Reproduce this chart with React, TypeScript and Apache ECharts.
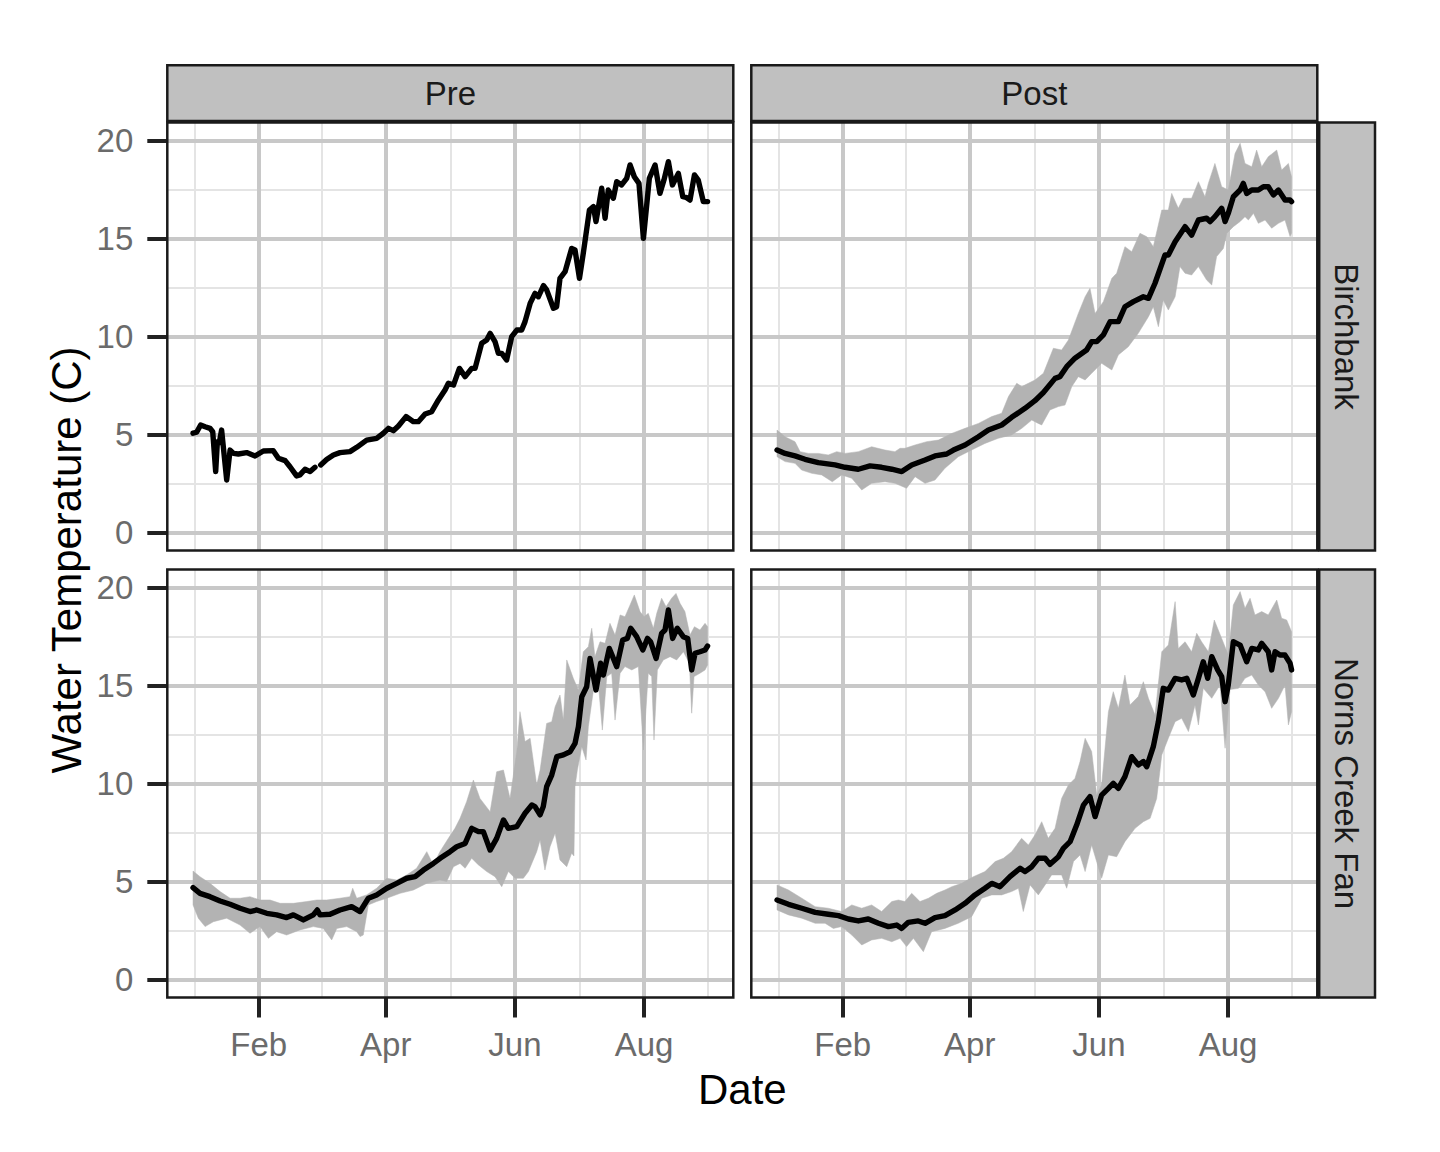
import React, { useEffect, useRef } from 'react';
import * as echarts from 'echarts';

// ---- axis ticks / labels ----
const xTickDays = [31, 91, 152, 213];
const xTickLabels = ['Feb', 'Apr', 'Jun', 'Aug'];
const xMinorDays = [1, 61, 121.5, 182.5, 243];
const yTicks = [0, 5, 10, 15, 20];
const yMinor = [2.5, 7.5, 12.5, 17.5];
const colLabels = ['Pre', 'Post'];
const rowLabels = ['Birchbank', 'Norns Creek Fan'];

// ---- Pre / Birchbank (day of year, Jan 1 = 0) ----
const preBirchDays = [0,1.7,3.6,5.7,8,9.3,10.7,11.5,12.4,13.5,15.9,17.5,19.1,21.4,25.3,29.3,33.2,37.9,40.3,43.5,45.8,48.9,50.5,52.9,55.3,57.6,58.9,60.3,63.1,66.3,69.4,74.1,77.3,82,86.7,89.9,92.3,94.6,97,100.6,104.1,106.4,109.6,112.7,115.9,119,120.6,123,125.8,128.5,131.6,133.2,136.3,138.7,140.3,142.6,144.2,145.8,148.1,150.5,152.9,155.2,156.8,159.2,161.5,163.1,165.5,167,170.2,171.7,173.3,175.7,178.8,180.4,182.5,184.3,187.2,189.1,190.3,193,194.6,196.1,198.5,200.1,202.4,204.8,206.4,208.4,210.6,212.7,215.5,218.2,220.5,222.4,224.5,226.4,229.2,231.3,232.8,234.7,236.8,238.6,241,243];
const preBirchMean = [5.06,5.11,5.48,5.39,5.31,5.14,3.10,4.63,4.58,5.22,2.67,4.20,4.03,4.00,4.07,3.90,4.15,4.17,3.78,3.66,3.35,2.88,2.93,3.22,3.10,3.32,null,3.44,3.72,3.95,4.07,4.12,4.34,4.71,4.80,5.06,5.31,5.19,5.43,5.91,5.65,5.65,6.04,6.16,6.76,7.27,7.61,7.52,8.37,7.95,8.37,8.37,9.65,9.82,10.16,9.74,9.14,9.14,8.80,9.99,10.33,10.33,10.76,11.69,12.20,12.03,12.60,12.38,11.44,11.52,12.97,13.31,14.50,14.42,12.97,14.25,16.46,16.63,15.87,17.57,16.04,17.48,17.06,17.91,17.74,18.08,18.76,18.16,17.82,15.01,18.08,18.76,17.31,17.99,18.93,17.74,18.33,17.14,17.11,16.97,18.25,17.99,16.89,16.89];

// ---- Post / Birchbank ----
const postBirchDays = [0,3.8,8.5,13.2,19.5,27.4,32.1,38.4,43.9,49.4,54.2,58.9,63.6,69.9,74.6,80.1,83.3,88.8,95.1,99.8,106.1,110.8,117.1,121.8,125.8,131.3,133.6,136.8,140.7,146.2,148.6,151,154.1,157.3,161.2,164.3,168.3,173,175.4,178.5,183.2,184.8,188,192.7,195.8,199,202.9,204.5,206.8,210,211.6,213.1,215.5,218.7,220.2,221.8,224.2,227.3,229.7,232,234.4,236.8,239.9,242.3,243];
const postBirchMean = [4.20,4.03,3.90,3.73,3.56,3.44,3.32,3.22,3.39,3.32,3.22,3.10,3.44,3.69,3.90,4.00,4.20,4.46,4.88,5.22,5.48,5.87,6.33,6.72,7.14,7.86,7.95,8.46,8.89,9.31,9.74,9.74,10.08,10.76,10.76,11.52,11.78,12.03,11.95,12.72,14.16,14.16,14.84,15.61,15.18,15.95,16.04,15.87,16.12,16.55,15.87,16.29,17.14,17.48,17.82,17.31,17.48,17.48,17.65,17.65,17.23,17.48,16.97,16.97,16.89];
const postBirchUpDays = [0,3.8,8.5,10.9,14.8,19.5,24.2,28.2,32.1,38.4,44.7,51,55.7,58.1,60.4,65.2,70.7,76.2,82.5,88.8,95.1,101.4,106.1,109.3,113.2,115.6,118.7,121.8,125.8,130.5,134.4,137.6,142.3,145.5,147.8,150.2,154.1,158.1,160.4,164.3,167.5,171.4,174.6,177.7,181.7,184.8,186.4,189.5,191.9,195.8,199,202.1,203.7,206.8,210,213.1,216.3,218.7,221,224.2,226.5,228.9,232,236,238.3,241.5,243];
const postBirchUp = [5.22,4.88,4.63,4.12,4.03,4.03,3.95,4.12,4.03,4.12,4.37,4.20,4.12,4.29,4.29,4.46,4.63,4.71,5.05,5.31,5.56,5.91,6.08,6.93,7.61,7.44,7.61,7.78,8.12,9.40,9.31,9.82,11.18,12.03,12.46,11.18,11.78,12.97,13.23,14.59,14.33,15.27,15.10,14.59,16.46,16.46,17.31,16.55,17.06,17.06,17.91,17.14,17.82,18.84,17.65,17.48,19.35,19.87,18.84,18.67,19.52,18.67,19.18,19.52,18.50,18.84,18.16];
const postBirchLoDays = [0,3.8,8.5,11.6,16.4,21.1,26.1,30.5,35.3,40,44.7,51,55.7,61.2,65.2,69.9,74.6,79.3,85.6,91.9,98.2,104.5,110.8,115.6,120.3,123.4,125,128.9,132.9,136,139.2,142.3,145.5,148.6,153.3,158.1,161.2,165.9,170.6,175.4,177.7,180.1,182.4,184.8,188,190.3,192.7,195.8,199,202.9,205.3,207.6,210.8,212.4,215.5,218.7,221,222.6,225,227.3,230.5,233.6,236.8,239.9,242.3,243];
const postBirchLo = [3.86,3.61,3.52,3.18,3.01,2.93,2.58,2.93,2.76,2.16,2.50,2.58,2.50,2.25,2.84,2.50,2.67,3.27,3.86,4.20,4.54,4.80,4.97,5.31,5.73,5.56,5.48,6.25,6.42,6.50,7.44,7.95,7.78,8.12,8.63,8.29,9.06,9.48,10.16,11.01,11.52,10.50,11.86,11.35,12.03,13.57,13.23,13.14,13.57,12.88,12.63,14.08,14.50,15.27,15.61,15.87,16.12,15.95,16.29,15.78,15.95,15.53,15.78,15.95,15.10,15.27];

// ---- Pre / Norns Creek Fan ----
const preNornsDays = [0,3.3,8,12.8,17.5,22.2,26.9,30.1,34.8,39.5,44.2,47.4,52.1,56.8,58.7,60,64.7,69.4,74.9,78.9,82.8,86.7,91.5,96.2,100.9,104.9,108.8,113.5,116.7,121.4,124.5,128.5,131.6,134.8,137.1,140.3,143.4,146.6,148.9,152.9,156.8,160,161.5,163.9,165.4,167,169.4,171.8,174.9,178,180.4,182,183.6,185.9,187.5,190.3,192.5,193.8,196.6,200.1,202.9,205.1,206.7,209.5,212.4,214.6,216.1,218.7,221.3,222.9,224.5,226.5,228.7,231.5,233.6,235.5,237.1,239.4,241.8,243];
const preNornsMean = [4.68,4.39,4.22,4.00,3.83,3.63,3.46,3.54,3.37,3.29,3.15,3.29,3.03,3.29,3.54,3.29,3.32,3.54,3.71,3.46,4.14,4.31,4.65,4.90,5.16,5.24,5.58,5.92,6.18,6.52,6.77,6.94,7.71,7.54,7.54,6.60,7.20,8.14,7.71,7.80,8.48,8.90,8.82,8.40,8.82,9.84,10.43,11.37,11.46,11.62,12.05,12.90,14.43,14.94,16.39,14.78,16.14,15.54,16.90,15.97,17.33,17.41,17.93,17.50,16.82,17.41,17.24,16.39,17.67,17.84,18.86,17.41,17.93,17.50,17.41,15.80,16.65,16.73,16.82,17.02];
const preNornsUpDays = [0,3.3,8,12.8,17.5,22.2,26.9,31.6,36.4,41.1,47.4,53.7,58.4,63.1,69.4,74.1,75.4,77.3,82,86.7,91.5,96.2,100.9,105.6,110.4,113.5,116.6,120.6,123.7,126.1,129.2,132.4,135.5,140.3,143.4,146.6,149.7,152.9,154.4,156.8,159.2,162.3,163.9,167,169.4,171,173.3,174.9,176.5,179.6,182,184.3,186.7,188.3,189.8,192.2,194.6,196.9,199.3,201.7,204,206.4,208.4,211.1,213,215,217.4,219,221.3,223.4,226,228.1,230,232.3,234.7,236.8,239.4,241.8,243];
const preNornsUp = [5.53,5.24,4.90,4.48,4.14,4.14,4.22,4.05,4.05,3.88,3.88,3.97,4.05,4.05,4.14,4.22,4.65,4.14,4.31,4.65,5.16,5.07,5.33,5.67,6.52,5.84,6.52,7.20,7.71,8.22,9.07,10.18,9.24,8.56,10.60,10.69,9.24,11.63,13.67,12.14,12.31,9.92,10.69,13.07,13.16,13.92,14.52,13.24,16.31,15.37,14.78,16.73,16.99,17.93,16.48,17.24,17.16,18.18,17.58,18.61,18.52,19.12,19.63,18.78,18.52,18.69,17.93,18.69,19.46,19.03,19.46,19.71,19.20,18.78,17.58,18.01,17.84,18.18,18.01];
const preNornsLoDays = [0,2.5,5.7,9.6,15.9,22.2,26.9,31.6,35.6,39.5,44.2,50.5,56.8,61.5,65.5,67.9,72.6,77.3,78.9,80.4,82.8,86.7,91.5,97.8,104.1,110.4,116.6,119.8,123,126.1,128.5,131.6,134.8,138.7,142.6,145.8,148.9,152.1,156,158.4,162.3,163.9,166.2,168.6,171,173.3,176.5,178.8,179.9,180.4,181.5,183.6,185.6,186.7,189.1,191.4,193.3,195.4,197.7,199.3,201.7,204,207.2,210.3,212.7,215,216.6,217.7,219.3,222.1,225.3,228.4,231.6,234.4,235.5,236.6,239.4,241.8,243];
const preNornsLo = [3.80,3.12,2.69,2.94,3.12,2.77,2.35,2.69,2.09,2.43,2.26,2.52,2.69,2.60,2.01,2.60,2.69,2.43,2.18,2.26,3.80,3.97,4.14,4.39,4.56,4.90,5.07,4.99,5.75,5.92,5.67,6.18,5.84,5.50,5.24,4.73,5.50,5.16,5.16,5.50,6.52,7.11,5.58,6.77,7.46,6.09,5.75,6.44,6.30,9.84,10.69,11.88,11.20,12.90,14.78,15.12,12.73,15.46,15.63,13.24,15.63,15.97,15.80,15.97,11.71,15.63,15.46,12.22,15.80,16.31,16.48,16.31,16.73,16.14,13.59,15.46,15.63,15.80,16.05];

// ---- Post / Norns Creek Fan ----
const postNornsDays = [0,5.4,11.7,18,24.2,29,33.7,38.4,43.1,47.9,52.6,56.5,58.9,62,66.7,69.9,74.6,79.3,84.1,88.8,93.5,98.2,101.4,105.3,110,114.8,117.1,120.3,123.4,126.6,128.9,132.9,135.2,138.4,141.5,144.7,147.8,150.2,153.3,156.5,158.8,161.2,164.3,167.5,170.6,173,174.6,177.7,180.1,182.4,184.8,188,191.1,193.5,196.6,199,201.3,203.4,205.3,208.1,210,211.6,213.1,215.5,218.7,221.8,224.2,227.3,228.9,232,233.6,235.2,237.5,239.9,242.3,243];
const postNornsMean = [4.05,3.83,3.63,3.42,3.32,3.25,3.08,2.98,3.08,2.86,2.69,2.77,2.60,2.91,2.98,2.86,3.15,3.25,3.54,3.88,4.31,4.65,4.90,4.73,5.24,5.67,5.50,5.75,6.18,6.18,5.87,6.26,6.69,7.03,7.88,8.90,9.33,8.31,9.41,9.75,10.01,9.75,10.35,11.37,10.95,11.12,10.86,11.88,13.16,14.86,14.77,15.37,15.29,15.37,14.52,15.37,16.22,15.37,16.48,15.80,15.46,14.18,15.03,17.24,17.07,16.22,16.90,16.82,17.16,16.73,15.80,16.73,16.56,16.56,16.14,15.80];
const postNornsUpDays = [0,5.4,11.7,18,24.2,30.5,35.3,40,44.7,49.4,54.2,57.3,60.4,63.6,67.5,71.5,75.4,79.3,82.5,87.2,92.7,98.2,103,106.9,110.8,115.5,118.7,121.8,125,128.1,131.3,134.4,137.6,140.7,143.1,145.5,148.6,151,153.3,156.5,158.8,161.2,164.3,166.7,170.6,173,175.4,178.5,181.7,184.8,188,189.5,192.7,195.8,198.2,200.5,203.7,206.5,210,213.1,215.5,218.7,221,223.4,225.7,228.9,232,236,238.3,240.7,243];
const postNornsUp = [4.82,4.56,4.14,3.71,3.63,3.46,3.80,3.63,3.80,3.46,3.97,4.05,3.97,4.39,3.97,4.14,4.39,4.56,4.73,4.90,5.24,5.50,6.01,6.18,6.52,7.20,6.86,7.37,8.05,7.20,7.71,9.24,9.92,10.26,11.12,12.31,11.63,9.41,9.92,13.67,14.69,13.84,15.54,14.01,14.44,15.20,14.35,13.50,16.73,17.07,19.29,16.90,17.24,16.73,17.67,17.24,16.73,18.35,17.41,16.56,19.12,19.80,18.95,19.46,18.61,18.78,18.61,19.37,18.44,18.35,17.75];
const postNornsLoDays = [0,5.4,11.7,18,22.7,26.6,30.5,35.3,40,44.7,49.4,54.2,58.1,61.2,64.4,69.1,73,79.3,85.6,91.9,96.7,101.4,106.1,110.8,114,116.3,119.5,123.4,126.6,129.7,134.4,136.8,140,143.1,145.5,148.6,153.3,156.5,160.4,164.3,169.1,173,176.2,179.3,181.7,184.8,188,191.1,194.3,197.4,199,201.3,205.3,209.2,211.6,213.9,217.9,221,224.2,227.3,230.5,233.6,236.8,239.9,241.5,243];
const postNornsLo = [3.54,3.29,3.12,2.86,2.86,2.60,2.69,2.26,1.75,2.01,2.09,1.92,2.09,1.67,2.09,1.41,2.43,2.60,2.86,3.20,4.14,4.31,4.31,4.48,4.65,3.46,4.82,4.31,4.82,5.33,5.33,4.65,6.01,6.35,5.50,6.86,5.16,6.35,6.26,7.03,7.71,8.05,8.22,9.24,11.46,12.31,13.16,13.33,12.65,14.01,12.99,14.86,14.35,15.03,11.80,14.80,14.86,15.37,15.54,15.03,14.69,13.84,14.35,15.03,12.99,13.67];

// ---- layout / style ----
const FONT = "'Liberation Sans', Arial, Helvetica, sans-serif";
const X_MIN = -12.15, X_MAX = 255.15, Y_MIN = -0.93, Y_MAX = 20.93;
const PANEL_LEFT = [167.3, 751.3];
const PANEL_TOP = [122.5, 569.5];
const PANEL_W = 566, PANEL_H = 428;
const STRIP_TOP = 65.2, STRIP_H = 55.8;
const RSTRIP_LEFT = 1319.2, RSTRIP_W = 55.8;

type Ribbon = { upDays: number[]; up: number[]; loDays: number[]; lo: number[] } | null;
const panels: { row: number; col: number; days: number[]; mean: (number | null)[]; ribbon: Ribbon }[] = [
  { row: 0, col: 0, days: preBirchDays, mean: preBirchMean, ribbon: null },
  { row: 0, col: 1, days: postBirchDays, mean: postBirchMean, ribbon: { upDays: postBirchUpDays, up: postBirchUp, loDays: postBirchLoDays, lo: postBirchLo } },
  { row: 1, col: 0, days: preNornsDays, mean: preNornsMean, ribbon: { upDays: preNornsUpDays, up: preNornsUp, loDays: preNornsLoDays, lo: preNornsLo } },
  { row: 1, col: 1, days: postNornsDays, mean: postNornsMean, ribbon: { upDays: postNornsUpDays, up: postNornsUp, loDays: postNornsLoDays, lo: postNornsLo } },
];

function gridLines(i: number, xs: number[], ys: number[], color: string, width: number, z: number) {
  return {
    type: 'line',
    xAxisIndex: i,
    yAxisIndex: i,
    data: [],
    z,
    silent: true,
    markLine: {
      silent: true,
      z,
      animation: false,
      symbol: ['none', 'none'],
      label: { show: false },
      emphasis: { disabled: true },
      lineStyle: { color, width, type: 'solid', opacity: 1 },
      data: [...xs.map((v) => ({ xAxis: v })), ...ys.map((v) => ({ yAxis: v }))],
    },
  };
}

function buildOption() {
  const grid: any[] = [];
  const xAxis: any[] = [];
  const yAxis: any[] = [];
  const series: any[] = [];
  const graphic: any[] = [];

  panels.forEach((p, i) => {
    grid.push({ left: PANEL_LEFT[p.col], top: PANEL_TOP[p.row], width: PANEL_W, height: PANEL_H, show: false, containLabel: false });
    const bottom = p.row === 1;
    const left = p.col === 0;
    xAxis.push({
      type: 'value', gridIndex: i, min: X_MIN, max: X_MAX,
      axisLine: { show: false, onZero: false },
      splitLine: { show: false },
      axisTick: { show: bottom, customValues: xTickDays, length: 20, lineStyle: { color: '#222', width: 4 } },
      axisLabel: {
        show: bottom, customValues: xTickDays, margin: 30, fontSize: 33, color: '#6b6b6b', fontFamily: FONT,
        formatter: (v: number) => {
          const k = xTickDays.findIndex((d) => Math.abs(d - v) < 0.01);
          return k >= 0 ? xTickLabels[k] : '';
        },
      },
    });
    yAxis.push({
      type: 'value', gridIndex: i, min: Y_MIN, max: Y_MAX,
      axisLine: { show: false, onZero: false },
      splitLine: { show: false },
      axisTick: { show: left, customValues: yTicks, length: 20, lineStyle: { color: '#222', width: 4 } },
      axisLabel: { show: left, customValues: yTicks, margin: 34, fontSize: 33, color: '#6b6b6b', fontFamily: FONT },
    });

    series.push(gridLines(i, xMinorDays, yMinor, '#e4e4e4', 2, 1));
    series.push(gridLines(i, xTickDays, yTicks, '#c8c8c8', 4, 2));

    if (p.ribbon) {
      const r = p.ribbon;
      const pts: number[][] = [];
      r.upDays.forEach((d, k) => pts.push([d, r.up[k]]));
      for (let k = r.loDays.length - 1; k >= 0; k--) pts.push([r.loDays[k], r.lo[k]]);
      series.push({
        type: 'custom', xAxisIndex: i, yAxisIndex: i, z: 3, silent: true,
        data: pts,
        renderItem: (params: any, api: any) => {
          if (params.dataIndex !== 0) return null;
          const points = pts.map((q) => api.coord(q));
          return { type: 'polygon', shape: { points }, style: { fill: '#b3b3b3', stroke: '#b3b3b3', lineWidth: 0.5 } };
        },
      });
    }

    series.push({
      type: 'line', xAxisIndex: i, yAxisIndex: i, z: 4, silent: true,
      data: p.days.map((d, k) => [d, p.mean[k]]),
      showSymbol: false, symbol: 'none', connectNulls: false,
      lineStyle: { color: '#000000', width: 5.4, join: 'round', cap: 'round' },
    });

    graphic.push({
      type: 'rect', z: 100, silent: true,
      shape: { x: PANEL_LEFT[p.col], y: PANEL_TOP[p.row], width: PANEL_W, height: PANEL_H },
      style: { fill: 'none', stroke: '#1a1a1a', lineWidth: 2.5 },
    });
  });

  colLabels.forEach((lab, c) => {
    graphic.push({
      type: 'rect', z: 100, silent: true,
      shape: { x: PANEL_LEFT[c], y: STRIP_TOP, width: PANEL_W, height: STRIP_H },
      style: { fill: '#c0c0c0', stroke: '#1a1a1a', lineWidth: 2.5 },
    });
    graphic.push({
      type: 'text', z: 101, silent: true,
      x: PANEL_LEFT[c] + PANEL_W / 2, y: STRIP_TOP + STRIP_H / 2,
      style: { text: lab, fontSize: 33, fontFamily: FONT, fill: '#1a1a1a', align: 'center', verticalAlign: 'middle', textAlign: 'center', textVerticalAlign: 'middle' },
    });
  });
  rowLabels.forEach((lab, r) => {
    graphic.push({
      type: 'rect', z: 100, silent: true,
      shape: { x: RSTRIP_LEFT, y: PANEL_TOP[r], width: RSTRIP_W, height: PANEL_H },
      style: { fill: '#c0c0c0', stroke: '#1a1a1a', lineWidth: 2.5 },
    });
    graphic.push({
      type: 'text', z: 101, silent: true,
      x: RSTRIP_LEFT + RSTRIP_W / 2 - 1, y: PANEL_TOP[r] + PANEL_H / 2, rotation: -Math.PI / 2,
      style: { text: lab, fontSize: 33, fontFamily: FONT, fill: '#1a1a1a', align: 'center', verticalAlign: 'middle', textAlign: 'center', textVerticalAlign: 'middle' },
    });
  });
  graphic.push({
    type: 'text', z: 101, silent: true,
    x: (PANEL_LEFT[0] + PANEL_LEFT[1] + PANEL_W) / 2, y: 1089,
    style: { text: 'Date', fontSize: 42, fontFamily: FONT, fill: '#000', align: 'center', verticalAlign: 'middle', textAlign: 'center', textVerticalAlign: 'middle' },
  });
  graphic.push({
    type: 'text', z: 101, silent: true,
    x: 66, y: (PANEL_TOP[0] + PANEL_TOP[1] + PANEL_H) / 2, rotation: Math.PI / 2,
    style: { text: 'Water Temperature (C)', fontSize: 42, fontFamily: FONT, fill: '#000', align: 'center', verticalAlign: 'middle', textAlign: 'center', textVerticalAlign: 'middle' },
  });

  return { animation: false, backgroundColor: '#ffffff', grid, xAxis, yAxis, series, graphic };
}

export default function App() {
  const ref = useRef<HTMLDivElement>(null);
  useEffect(() => {
    if (!ref.current) return;
    const chart = echarts.init(ref.current, null, { renderer: 'svg' });
    chart.setOption(buildOption() as any);
    return () => chart.dispose();
  }, []);
  return <div ref={ref} style={{ position: 'absolute', left: 0, top: 0, width: 1440, height: 1152, background: '#fff' }} />;
}
